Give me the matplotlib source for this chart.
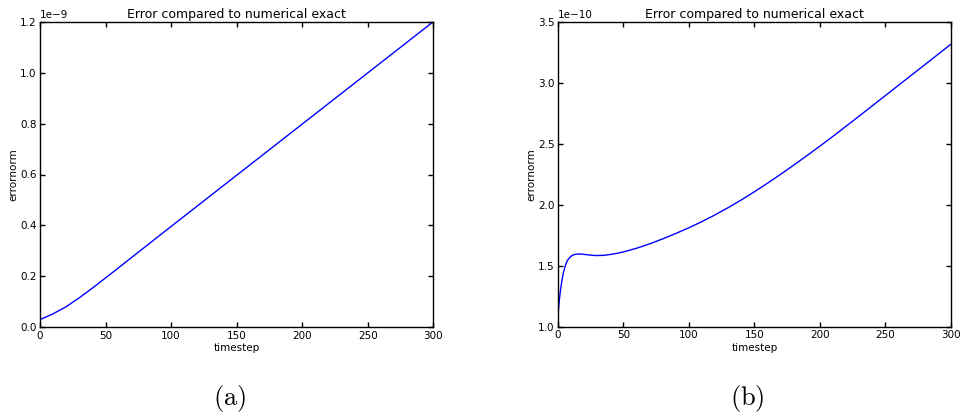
import numpy as np
import matplotlib
matplotlib.use("Agg")
import matplotlib.pyplot as plt

# Error norm per timestep, run (a): values in units of 1e-9
steps_a = [0, 10, 20, 30, 40, 50, 60, 75, 100, 150, 200, 250, 300]
err_a = [0.030, 0.053, 0.081, 0.116, 0.154, 0.194, 0.234, 0.295, 0.396,
         0.597, 0.798, 0.999, 1.200]

# Error norm per timestep, run (b): values in units of 1e-10
steps_b = [0, 1, 2, 3, 4, 5, 6, 7, 8, 10, 12, 15, 18, 22, 26, 30, 35, 40, 45,
           50, 60, 70, 80, 90, 100, 110, 120, 130, 140, 150, 160, 170, 180,
           190, 200, 210, 220, 230, 240, 250, 260, 270, 280, 290, 300]
err_b = [1.10, 1.22, 1.31, 1.38, 1.44, 1.48, 1.515, 1.54, 1.558, 1.58, 1.592,
         1.598, 1.597, 1.592, 1.587, 1.585, 1.587, 1.594, 1.603, 1.615, 1.645,
         1.681, 1.722, 1.766, 1.813, 1.864, 1.919, 1.978, 2.041, 2.108, 2.178,
         2.251, 2.326, 2.403, 2.482, 2.562, 2.645, 2.728, 2.812, 2.896, 2.980,
         3.064, 3.148, 3.232, 3.316]

x_ticks = [0, 50, 100, 150, 200, 250, 300]
y_ticks_a = [0.0, 0.2, 0.4, 0.6, 0.8, 1.0, 1.2]
y_ticks_b = [1.0, 1.5, 2.0, 2.5, 3.0, 3.5]

plt.rcParams.update({
    "font.family": "DejaVu Sans",
    "font.size": 7.5,
    "mathtext.fontset": "cm",
})

W, H = 962, 418
fig = plt.figure(figsize=(W / 100, H / 100), dpi=100)
fig.patch.set_facecolor("white")


def px_axes(x0, x1, ytop, ybot):
    return fig.add_axes([x0 / W, 1 - ybot / H, (x1 - x0) / W, (ybot - ytop) / H])


ax_a = px_axes(40, 433.3, 21.7, 327.3)
ax_b = px_axes(558, 951, 21.7, 327.0)

panels = [
    (ax_a, steps_a, err_a, 1e-9, y_ticks_a, (0.0, 1.2)),
    (ax_b, steps_b, err_b, 1e-10, y_ticks_b, (1.0, 3.5)),
]

for ax, xs, ys, scale, yt, ylim in panels:
    ax.plot(xs, np.asarray(ys) * scale, color="#0000ff", lw=1.0)
    ax.set_xlim(0, 300)
    ax.set_ylim(ylim[0] * scale, ylim[1] * scale)
    ax.set_xticks(x_ticks)
    ax.set_yticks(np.asarray(yt) * scale)
    ax.ticklabel_format(axis="y", style="sci", scilimits=(0, 0))
    ax.tick_params(direction="in", length=3.5, width=1, pad=2.5,
                   top=True, right=True, labelsize=7.5)
    for sp in ax.spines.values():
        sp.set_linewidth(1.0)
        sp.set_color("black")
    ax.yaxis.get_offset_text().set_fontsize(7.5)
    ax.set_title("Error compared to numerical exact", fontsize=9, pad=3)
    ax.set_xlabel("timestep", labelpad=1.5)
    ax.set_ylabel("errornorm", labelpad=1.0)

fig.text(229.7 / W, 1 - 399 / H, r"$\mathrm{(a)}$", fontsize=19,
         ha="center", va="center")
fig.text(747.7 / W, 1 - 399 / H, r"$\mathrm{(b)}$", fontsize=19,
         ha="center", va="center")

fig.savefig("out.png", dpi=100, facecolor="white")
